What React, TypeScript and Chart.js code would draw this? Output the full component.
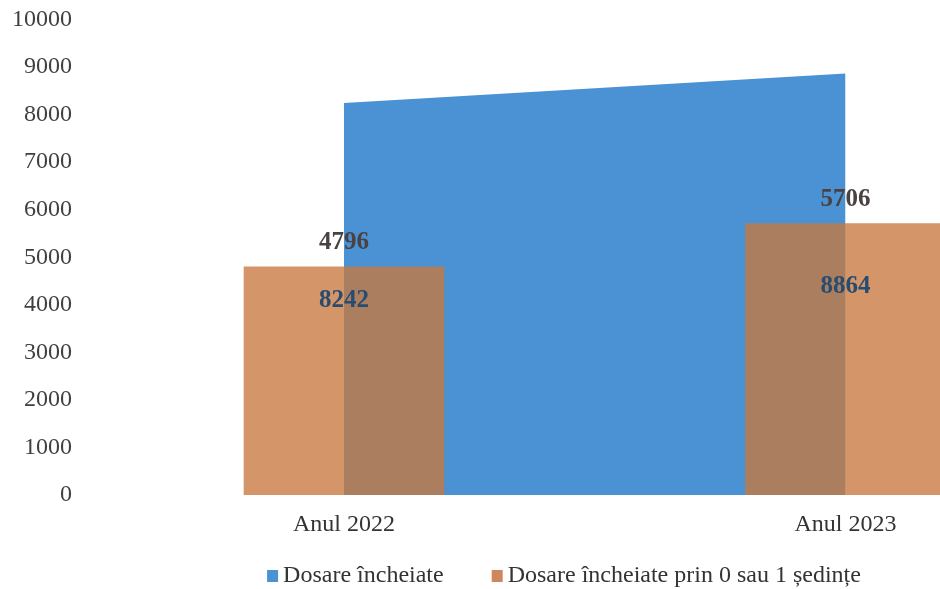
import React, { useEffect, useRef } from "react";
import { Chart, registerables } from "chart.js";

Chart.register(...registerables);

const categories = ["Anul 2022", "Anul 2023"];
const seriesNames = ["Dosare încheiate", "Dosare încheiate prin 0 sau 1 ședințe"];
const dosareIncheiate = [8242, 8864];
const dosareUnaSedinta = [4796, 5706];
const yMin = 0;
const yMax = 10000;
const yStep = 1000;

const BLUE = "rgb(74,146,212)";
const ORANGE = "rgba(200,120,63,0.78)";
const ORANGE_BOX = "rgb(206,136,92)";
const FONT = '"Liberation Serif", "Times New Roman", serif';

const legendPlugin = {
  id: "customLegend",
  afterDraw(chart: any) {
    const ctx = chart.ctx;
    ctx.save();
    ctx.font = `24px ${FONT}`;
    ctx.textBaseline = "alphabetic";
    ctx.textAlign = "left";
    const items = chart.data.datasets.map((ds: any) => ({ text: ds.label, color: ds.legendColor }));
    const box = 11;
    const gap = 5;
    const itemGap = 48;
    const widths = items.map((it: any) => box + gap + ctx.measureText(it.text).width);
    const total = widths.reduce((a: number, b: number) => a + b, 0) + itemGap * (items.length - 1);
    let x = 564 - total / 2;
    const baseline = 582;
    items.forEach((it: any, i: number) => {
      ctx.fillStyle = it.color;
      ctx.fillRect(x, baseline - 12, box, 12);
      ctx.fillStyle = "#333333";
      ctx.fillText(it.text, x + box + gap, baseline);
      x += widths[i] + itemGap;
    });
    ctx.restore();
  },
};

const valueLabelPlugin = {
  id: "valueLabels",
  afterDatasetsDraw(chart: any) {
    const ctx = chart.ctx;
    ctx.save();
    ctx.font = `bold 25px ${FONT}`;
    ctx.textAlign = "center";
    ctx.textBaseline = "middle";
    chart.data.datasets.forEach((ds: any, di: number) => {
      const meta = chart.getDatasetMeta(di);
      meta.data.forEach((el: any, i: number) => {
        const v = ds.data[i].y;
        let y: number;
        if (ds.type === "line") {
          y = chart.scales.y.getPixelForValue(v / 2) + 2;
        } else {
          y = el.y - 24.5;
        }
        ctx.fillStyle = ds.labelColor;
        ctx.fillText(String(v), el.x, y);
      });
    });
    ctx.restore();
  },
};

export default function App() {
  const ref = useRef<HTMLCanvasElement | null>(null);

  useEffect(() => {
    if (!ref.current) return;
    const chart = new Chart(ref.current, {
      type: "bar",
      data: {
        datasets: [
          {
            type: "line",
            label: seriesNames[0],
            data: dosareIncheiate.map((v, i) => ({ x: i, y: v })),
            backgroundColor: BLUE,
            borderColor: "rgba(0,0,0,0)",
            borderWidth: 0,
            pointRadius: 0,
            tension: 0,
            fill: "origin",
            order: 2,
            legendColor: BLUE,
            labelColor: "#284b70",
          } as any,
          {
            type: "bar",
            label: seriesNames[1],
            data: dosareUnaSedinta.map((v, i) => ({ x: i, y: v })),
            backgroundColor: ORANGE,
            borderWidth: 0,
            barThickness: 200,
            order: 1,
            legendColor: ORANGE_BOX,
            labelColor: "#4a4242",
          } as any,
        ],
      },
      options: {
        animation: false,
        responsive: false,
        maintainAspectRatio: false,
        layout: { padding: { top: 19.5, left: 0, right: 0, bottom: 0 } },
        plugins: {
          legend: { display: false },
          tooltip: { enabled: false },
        },
        scales: {
          x: {
            type: "linear",
            offset: false,
            min: -0.5364,
            max: 1.1884,
            grid: { display: false, drawTicks: false, offset: false },
            border: { display: false },
            afterBuildTicks: (axis: any) => {
              axis.ticks = categories.map((_, i) => ({ value: i }));
            },
            afterFit: (axis: any) => {
              axis.height = 94;
            },
            ticks: {
              autoSkip: false,
              maxRotation: 0,
              padding: 15,
              color: "#333333",
              font: { family: FONT, size: 24 },
              callback: (v: any) => categories[v as number] ?? "",
            },
          },
          y: {
            min: yMin,
            max: yMax,
            grid: { display: false, drawTicks: false },
            border: { display: false },
            afterFit: (axis: any) => {
              axis.width = 75;
            },
            ticks: {
              stepSize: yStep,
              padding: 3,
              color: "#404040",
              font: { family: FONT, size: 24 },
              callback: (v: any) => String(v),
            },
          },
        },
      } as any,
      plugins: [valueLabelPlugin, legendPlugin],
    });
    return () => chart.destroy();
  }, []);

  return (
    <div style={{ position: "fixed", left: 0, top: 0, width: 940, height: 589, overflow: "hidden", background: "#fff" }}>
      <canvas ref={ref} width={940} height={589} style={{ width: 940, height: 589, display: "block" }} />
    </div>
  );
}
